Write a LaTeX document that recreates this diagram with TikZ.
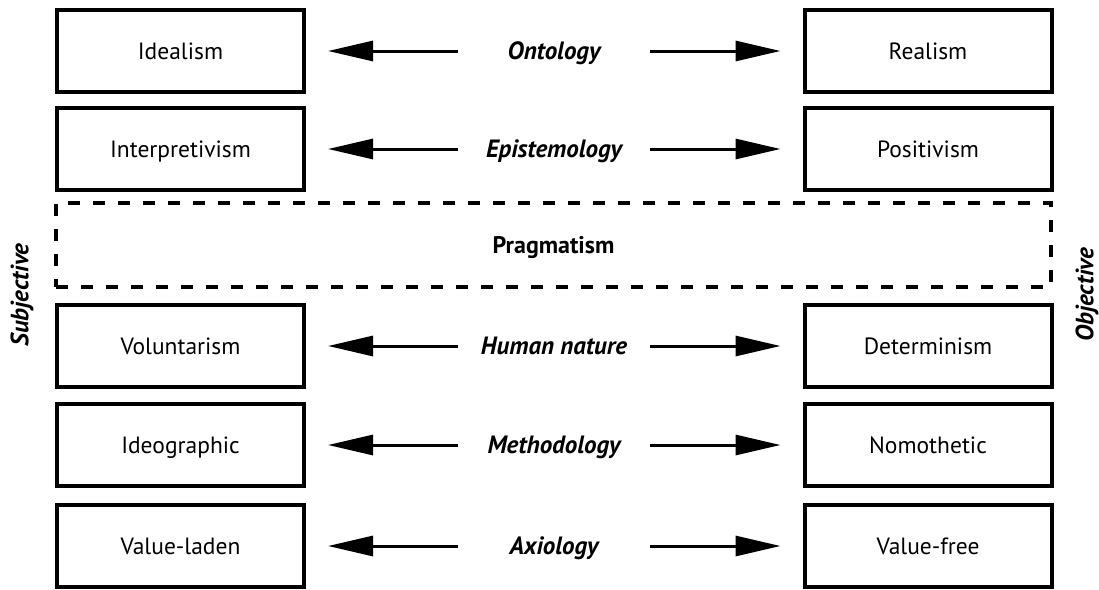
\documentclass[tikz,border=0pt]{standalone}
\usepackage{fontspec}
\setmainfont{PT Sans}
\usetikzlibrary{arrows.meta}
\begin{document}
\begin{tikzpicture}[x=1pt,y=-1pt,
  pole/.style={draw, line width=4pt, minimum width=247pt, minimum height=82pt,
    inner sep=0pt, outer sep=0pt, text height=16.5pt, text depth=0pt,
    font=\fontsize{23.5}{28}\selectfont},
  dimlabel/.style={inner sep=0pt, text height=17pt, text depth=0pt,
    font=\fontsize{25}{30}\selectfont\bfseries\itshape},
  arr/.style={line width=3pt, -{Triangle[length=45pt,width=20pt]},
    shorten <=96pt, shorten >=24pt},
  sidelabel/.style={rotate=90, inner sep=0pt, font=\fontsize{25}{30}\selectfont\bfseries\itshape}]
\useasboundingbox (0,0) rectangle (1099,589);
\fill[white] (0,0) rectangle (1099,589);

% left and right poles with the dimension between them
\foreach \name/\y/\lt/\mid/\rt in {
    ont/51/Idealism/Ontology/Realism,
    epi/149/Interpretivism/Epistemology/Positivism,
    hum/346/Voluntarism/Human nature/Determinism,
    met/445/Ideographic/Methodology/Nomothetic,
    axi/546/Value-laden/Axiology/Value-free} {
  \node[pole] (\name L) at (180.5,\y) {\lt};
  \node[pole] (\name R) at (928,\y) {\rt};
  \node[dimlabel] (\name M) at (554,\y) {\mid};
  \draw[arr] (\name M.center) -- (\name L.east);
  \draw[arr] (\name M.center) -- (\name R.west);
}

% middle ground
\node[draw, line width=4pt, dash pattern=on 12pt off 13pt, minimum width=995pt,
  minimum height=84pt, inner sep=0pt, outer sep=0pt, text height=17pt, text depth=0pt,
  font=\fontsize{24}{28}\selectfont\bfseries] (prag) at (553.5,245) {Pragmatism};

% the two ends of the scale
\node[sidelabel] (subj) at (22,295) {Subjective};
\node[sidelabel] (obj) at (1087,295) {Objective};
\end{tikzpicture}
\end{document}
